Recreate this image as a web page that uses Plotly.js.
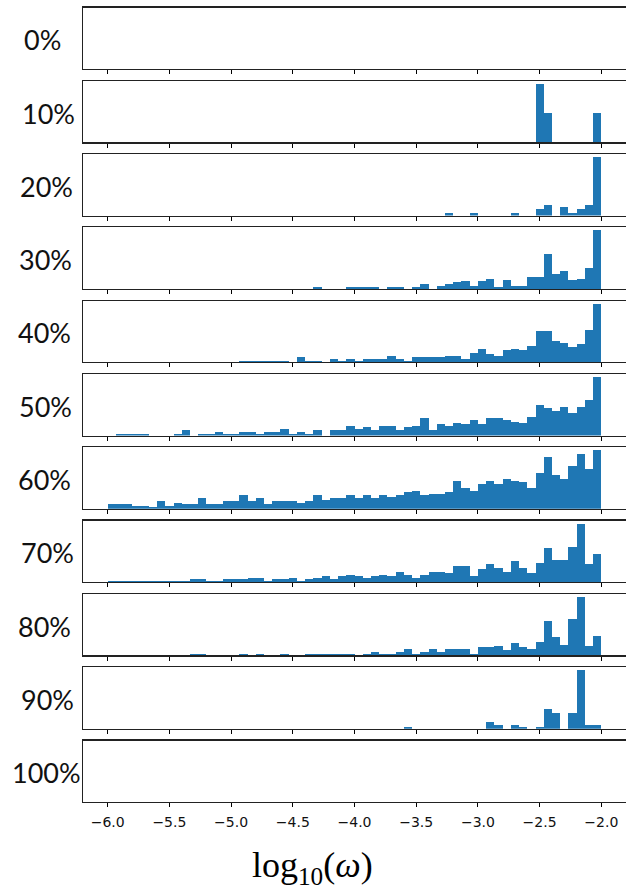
<!DOCTYPE html>
<html>
<head>
<meta charset="utf-8">
<script src="https://cdn.plot.ly/plotly-3.0.1.min.js"></script>
<style>html,body{margin:0;padding:0;background:#fff;}#chart{width:626px;height:890px;}</style>
</head>
<body>
<div id="chart"></div>
<script>
// ---- data ----
const panelLabels = ["0%", "10%", "20%", "30%", "40%", "50%", "60%", "70%", "80%", "90%", "100%"];
const binStart = -6.0;
const binCount = 60;
const binWidth = 4 / 60;
const tickVals = [-6.0, -5.5, -5.0, -4.5, -4.0, -3.5, -3.0, -2.5, -2.0];
const tickLabels = ["\u22126.0", "\u22125.5", "\u22125.0", "\u22124.5", "\u22124.0", "\u22123.5", "\u22123.0", "\u22122.5", "\u22122.0"];
const xTitle = "log<sub>10</sub>(<i>\u03c9</i>)";

// bin heights (relative), 60 bins each, from -6.0 to -2.0
const h0 = [0,0,0,0,0,0,0,0,0,0, 0,0,0,0,0,0,0,0,0,0, 0,0,0,0,0,0,0,0,0,0, 0,0,0,0,0,0,0,0,0,0, 0,0,0,0,0,0,0,0,0,0, 0,0,0,0,0,0,0,0,0,0];
const h10 = [0,0,0,0,0,0,0,0,0,0, 0,0,0,0,0,0,0,0,0,0, 0,0,0,0,0,0,0,0,0,0, 0,0,0,0,0,0,0,0,0,0, 0,0,0,0,0,0,0,0,0,0, 0,0,2,1,0,0,0,0,0,1];
const h20 = [0,0,0,0,0,0,0,0,0,0, 0,0,0,0,0,0,0,0,0,0, 0,0,0,0,0,0,0,0,0,0, 0,0,0,0,0,0,0,0,0,0, 0,9,0,0,9,0,0,0,0,9, 0,0,19,31,0,27,9,19,31,176];
const h30 = [0,0,0,0,0,0,0,0,0,0, 0,0,0,0,0,0,0,0,0,0, 0,0,0,0,0,5,0,0,0,5, 5,5,5,0,5,5,0,5,14,0, 9,14,20,23,9,23,31,5,27,9, 9,36,36,106,45,53,27,31,62,176];
const h40 = [0,0,0,0,0,0,0,0,0,0, 0,0,0,0,0,0,5,5,5,5, 5,5,0,15,5,5,0,10,5,10, 5,10,10,10,20,10,5,15,15,15, 15,20,20,10,28,41,24,20,37,41, 37,50,93,93,63,59,46,54,98,177];
const h50 = [0,5,5,5,5,0,0,0,5,15, 0,5,5,10,5,5,10,10,5,10, 10,20,5,10,5,15,0,15,15,28, 20,24,15,28,28,15,24,28,50,15, 33,28,37,33,46,33,50,50,46,41, 37,54,89,81,72,85,67,85,103,172];
const h60 = [14,14,14,9,9,5,23,9,18,14, 14,31,14,14,23,23,40,23,31,14, 23,23,23,18,23,40,27,31,31,40, 31,40,31,40,36,40,49,53,40,44, 44,49,83,62,53,75,83,75,88,84, 80,62,106,153,101,88,127,162,119,174];
const h70 = [4,4,4,4,4,4,4,4,4,4, 8,8,4,4,8,8,8,12,12,4, 8,8,13,4,8,13,17,8,17,22, 17,13,17,22,17,30,22,13,22,30, 30,26,48,48,17,39,52,43,30,61, 43,26,56,100,65,65,105,173,52,82];
const h80 = [0,0,0,0,0,0,0,0,0,0, 5,5,0,0,0,0,5,0,5,0, 0,5,0,0,5,5,5,5,5,5, 0,5,10,5,5,10,20,5,10,20, 10,20,20,20,5,24,24,28,15,37, 24,20,41,103,54,32,110,175,28,57];
const h90 = [0,0,0,0,0,0,0,0,0,0, 0,0,0,0,0,0,0,0,0,0, 0,0,0,0,0,0,0,0,0,0, 0,0,0,0,0,0,5,0,0,0, 0,0,0,0,0,0,19,10,0,10, 5,0,5,58,46,0,46,176,10,10];
const h100 = [0,0,0,0,0,0,0,0,0,0, 0,0,0,0,0,0,0,0,0,0, 0,0,0,0,0,0,0,0,0,0, 0,0,0,0,0,0,0,0,0,0, 0,0,0,0,0,0,0,0,0,0, 0,0,0,0,0,0,0,0,0,0];
const panels = [h0, h10, h20, h30, h40, h50, h60, h70, h80, h90, h100];

// ---- layout constants (pixels) ----
const W = 626, H = 890;
const plotLeft = 83, plotRight = 626;
const firstTop = 7.5, pitch = 73.3, panelH = 61.5;
const labelCenterX = [42.5, 48, 46, 45.5, 44, 45.5, 44, 47, 44, 47, 46];

const binCenters = [];
for (let i = 0; i < binCount; i++) binCenters.push(binStart + (i + 0.5) * binWidth);

const traces = [];
const layout = {
  width: W, height: H,
  margin: {l: plotLeft, r: W - plotRight, t: 0, b: 0},
  paper_bgcolor: "#ffffff", plot_bgcolor: "#ffffff",
  showlegend: false,
  bargap: 0,
  annotations: []
};

panels.forEach((vals, k) => {
  const n = k + 1;
  const xa = n === 1 ? "x" : "x" + n;
  const ya = n === 1 ? "y" : "y" + n;
  traces.push({
    type: "bar",
    x: binCenters,
    y: vals,
    width: binWidth,
    xaxis: xa, yaxis: ya,
    marker: {color: "#1f77b4", line: {width: 0}},
    hoverinfo: "skip"
  });
  const top = firstTop + k * pitch;
  const bot = top + panelH;
  const mx = Math.max(...vals);
  const isLast = k === panels.length - 1;
  layout["xaxis" + (n === 1 ? "" : n)] = {
    domain: [0, 1],
    anchor: ya,
    range: [-6.2, -1.8],
    tickmode: "array",
    tickvals: tickVals,
    ticktext: tickLabels,
    showticklabels: isLast,
    ticks: "outside", ticklen: 4, tickwidth: 1, tickcolor: "#000",
    ticklabelstandoff: 3,
    showline: true, mirror: true, linecolor: "#222", linewidth: 1.2,
    showgrid: false, zeroline: false,
    tickfont: {family: "DejaVu Sans", size: 14, color: "#111"}
  };
  layout["yaxis" + (n === 1 ? "" : n)] = {
    domain: [1 - bot / H, 1 - top / H],
    anchor: xa,
    range: mx > 0 ? [0, mx * 1.05] : [0, 1],
    showticklabels: false, ticks: "",
    showline: true, mirror: true, linecolor: "#222", linewidth: 1.2,
    showgrid: false, zeroline: false
  };
  layout.annotations.push({
    text: panelLabels[k],
    xref: "paper", yref: "paper",
    x: (labelCenterX[k] - plotLeft) / (plotRight - plotLeft),
    y: 1 - (top + panelH / 2 + 1.5) / H,
    xanchor: "center", yanchor: "middle",
    showarrow: false,
    font: {family: "Lato", size: 27, color: "#111"}
  });
});

layout.annotations.push({
  text: xTitle,
  xref: "paper", yref: "paper",
  x: (312 - plotLeft) / (plotRight - plotLeft),
  y: 1 - 867 / H,
  xanchor: "center", yanchor: "middle",
  showarrow: false,
  font: {family: "Liberation Serif", size: 36, color: "#000"}
});

Plotly.newPlot("chart", traces, layout, {displayModeBar: false, staticPlot: true});
</script>
</body>
</html>
